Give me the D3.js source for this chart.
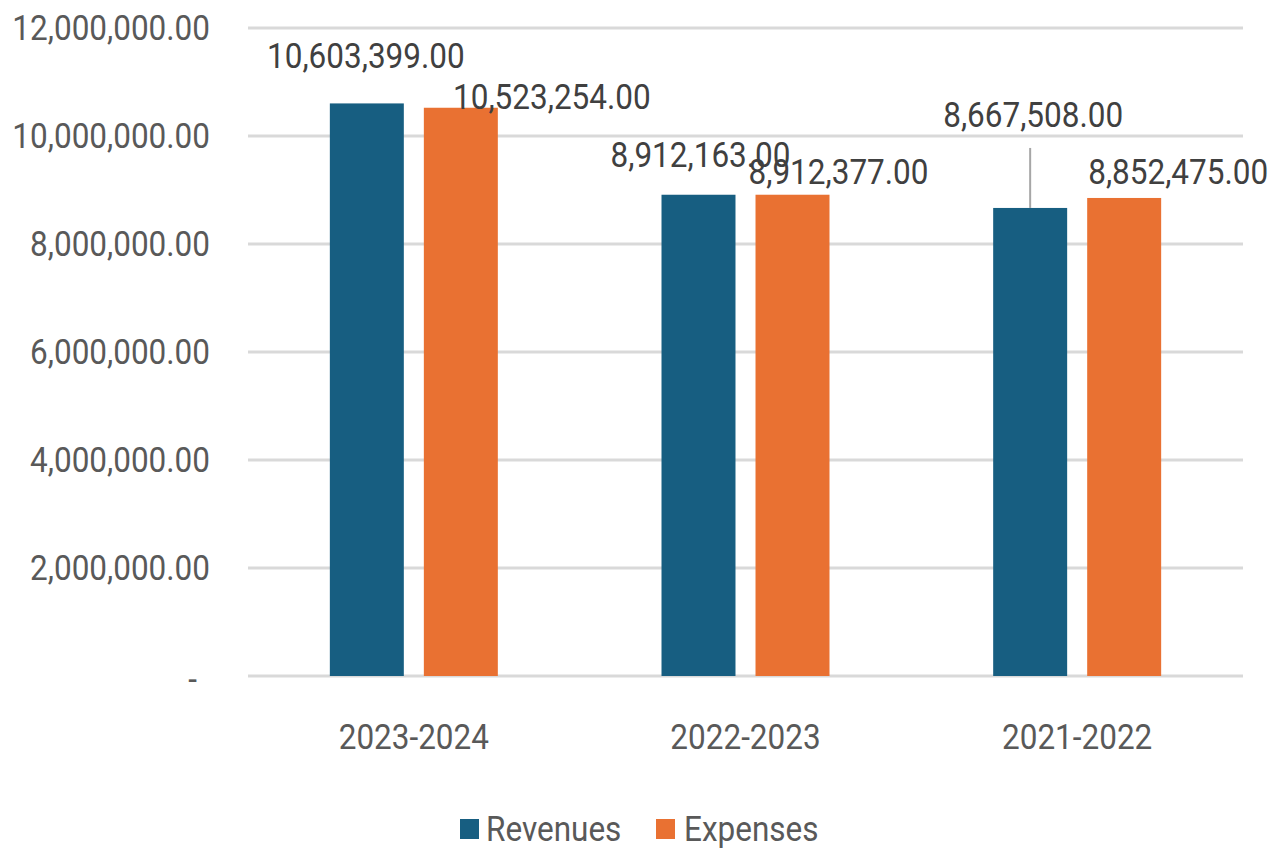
<!DOCTYPE html>
<html>
<head>
<meta charset="utf-8">
<script src="https://cdn.jsdelivr.net/npm/d3@7"></script>
<style>
  html, body { margin: 0; padding: 0; background: #fff; }
  svg { display: block; }
</style>
</head>
<body>
<svg id="chart" width="1288" height="850"></svg>
<script>
// ---- data ----
const categories = ["2023-2024", "2022-2023", "2021-2022"];
const seriesNames = ["Revenues", "Expenses"];
const revenues = [10603399, 8912163, 8667508];
const expenses = [10523254, 8912377, 8852475];
const yTicks = [0, 2000000, 4000000, 6000000, 8000000, 10000000, 12000000];

// manual label displacement (px) relative to default position above the bar
const labelShiftRev = [[-1, -48], [2, -40], [3, -93]];
const labelShiftExp = [[91, -11], [46, -23], [54, -26]];

const colors = { Revenues: "#175E81", Expenses: "#E97132" };
const FONT = "Roboto, 'Liberation Sans', sans-serif";
const FS = 35, SX = 0.9;

const svg = d3.select("#chart");
const plotLeft = 248, plotRight = 1243, plotTop = 28, plotBottom = 676;

const y = d3.scaleLinear().domain([0, 12000000]).range([plotBottom, plotTop]);
const x0 = d3.scaleBand().domain(categories).range([plotLeft, plotRight])
  .paddingInner(0.4935).paddingOuter(0.4935 / 2);
const x1 = d3.scaleBand().domain(seriesNames).range([0, x0.bandwidth()])
  .paddingInner(0.213).paddingOuter(0);

function addText(g, x, yy, txt, anchor, color) {
  return g.append("text")
    .attr("transform", `translate(${x},${yy}) scale(${SX},1)`)
    .attr("text-anchor", anchor)
    .attr("dominant-baseline", "central")
    .attr("font-family", FONT)
    .attr("font-size", FS)
    .attr("fill", color)
    .text(txt);
}

// gridlines
const grid = svg.append("g");
grid.selectAll("line").data(yTicks).join("line")
  .attr("x1", plotLeft).attr("x2", plotRight)
  .attr("y1", d => y(d)).attr("y2", d => y(d))
  .attr("stroke", "#D9D9D9").attr("stroke-width", 3);

// y axis labels
const fmt = d3.format(",.2f");
const yAxisG = svg.append("g");
yTicks.forEach(t => {
  if (t === 0) addText(yAxisG, 197, y(t) + 3, "-", "end", "#595959");
  else addText(yAxisG, 210, y(t), fmt(t), "end", "#595959");
});

// bars
const rows = categories.map((c, i) => ({ cat: c, vals: [
  { s: "Revenues", v: revenues[i], shift: labelShiftRev[i] },
  { s: "Expenses", v: expenses[i], shift: labelShiftExp[i] }
]}));

const groups = svg.append("g").selectAll("g").data(rows).join("g")
  .attr("transform", d => `translate(${x0(d.cat)},0)`);

groups.selectAll("rect").data(d => d.vals).join("rect")
  .attr("x", d => x1(d.s))
  .attr("width", x1.bandwidth())
  .attr("y", d => y(d.v))
  .attr("height", d => y(0) - y(d.v))
  .attr("fill", d => colors[d.s]);

// data labels + leader lines
const labG = svg.append("g");
rows.forEach(r => {
  r.vals.forEach(d => {
    const cx = x0(r.cat) + x1(d.s) + x1.bandwidth() / 2;
    const lx = cx + d.shift[0];
    const ly = y(d.v) + d.shift[1];
    if (d.shift[1] < -60) {
      labG.append("line")
        .attr("x1", cx).attr("x2", cx)
        .attr("y1", ly + 33).attr("y2", y(d.v))
        .attr("stroke", "#A6A6A6").attr("stroke-width", 2);
    }
    addText(labG, lx, ly, fmt(d.v), "middle", "#404040");
  });
});

// x axis labels
const xAxisG = svg.append("g");
categories.forEach(c => {
  addText(xAxisG, x0(c) + x0.bandwidth() / 2, 737, c, "middle", "#595959");
});

// legend
const legend = svg.append("g");
const legendItems = [
  { s: "Revenues", sx: 460, tx: 486 },
  { s: "Expenses", sx: 656, tx: 684 }
];
legendItems.forEach(it => {
  legend.append("rect").attr("x", it.sx).attr("y", 819).attr("width", 19).attr("height", 20)
    .attr("fill", colors[it.s]);
  addText(legend, it.tx, 829, it.s, "start", "#595959");
});
</script>
</body>
</html>
